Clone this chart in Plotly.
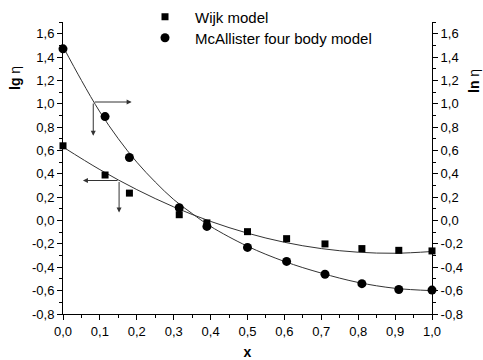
import plotly.graph_objects as go

# ---- data ----
x_pts = [0.0, 0.114, 0.18, 0.315, 0.39, 0.5, 0.606, 0.71, 0.81, 0.91, 1.0]
wijk_y = [0.64, 0.39, 0.235, 0.05, -0.02, -0.095, -0.155, -0.20, -0.24, -0.255, -0.26]
mcal_y = [1.47, 0.89, 0.54, 0.11, -0.05, -0.23, -0.35, -0.46, -0.54, -0.59, -0.595]

fit_x_w = [0.0, 0.1, 0.2, 0.3, 0.4, 0.5, 0.6, 0.7, 0.8, 0.9, 1.0]
fit_y_w = [0.63, 0.436, 0.265, 0.117, -0.007, -0.108, -0.186, -0.240, -0.271, -0.280, -0.265]

fit_x_m = [0.0, 0.05, 0.1, 0.15, 0.2, 0.25, 0.3, 0.35, 0.4, 0.5, 0.6, 0.7, 0.8, 0.9, 1.0]
fit_y_m = [1.49, 1.20, 0.93, 0.70, 0.50, 0.33, 0.18, 0.06, -0.05, -0.22, -0.35, -0.45, -0.53, -0.58, -0.60]

y_ticks = [-0.8, -0.6, -0.4, -0.2, 0.0, 0.2, 0.4, 0.6, 0.8, 1.0, 1.2, 1.4, 1.6]
y_labels = ["-0,8", "-0,6", "-0,4", "-0,2", "0,0", "0,2", "0,4", "0,6", "0,8", "1,0", "1,2", "1,4", "1,6"]
x_ticks = [0.0, 0.1, 0.2, 0.3, 0.4, 0.5, 0.6, 0.7, 0.8, 0.9, 1.0]
x_labels = ["0,0", "0,1", "0,2", "0,3", "0,4", "0,5", "0,6", "0,7", "0,8", "0,9", "1,0"]

FONT = "Liberation Sans, Arial, sans-serif"
ML, MR, MT, MB = 63, 51, 22, 46
W, H = 483, 360
PW, PH = W - ML - MR, H - MT - MB


def px_x(p):
    return (p - ML) / PW


def px_y(p):
    return 1 - (p - MT) / PH


fig = go.Figure()
fig.add_trace(go.Scatter(x=fit_x_w, y=fit_y_w, mode="lines", line=dict(color="#333", width=1, shape="spline"),
                         showlegend=False, hoverinfo="skip", cliponaxis=False))
fig.add_trace(go.Scatter(x=fit_x_m, y=fit_y_m, mode="lines", line=dict(color="#333", width=1, shape="spline"),
                         showlegend=False, hoverinfo="skip", cliponaxis=False))
fig.add_trace(go.Scatter(x=x_pts, y=wijk_y, mode="markers", name="Wijk model", legend="legend",
                         marker=dict(symbol="square", size=7, color="black"), cliponaxis=False))
fig.add_trace(go.Scatter(x=x_pts, y=mcal_y, mode="markers", name="McAllister four body model", legend="legend2",
                         marker=dict(symbol="circle", size=9, color="black"), cliponaxis=False))
# dummy trace to activate right axis
fig.add_trace(go.Scatter(x=[None], y=[None], yaxis="y2", showlegend=False, hoverinfo="skip"))

yr = [-0.8, 1.7]
common_y = dict(range=yr, tickvals=y_ticks, ticktext=y_labels, showline=True, linecolor="black", linewidth=1,
                ticks="outside", ticklen=5, tickcolor="black", showgrid=False, zeroline=False,
                tickfont=dict(family=FONT, size=13, color="black"),
                minor=dict(dtick=0.1, tick0=0, ticks="outside", ticklen=3, tickcolor="black", showgrid=False))

leg_common = dict(xanchor="left", yanchor="middle", bgcolor="rgba(0,0,0,0)", itemwidth=50,
                  font=dict(family=FONT, size=15, color="black"))

fig.update_layout(
    width=W, height=H,
    margin=dict(l=ML, r=MR, t=MT, b=MB, autoexpand=False),
    paper_bgcolor="white", plot_bgcolor="white",
    font=dict(family=FONT, color="black"),
    xaxis=dict(range=[0, 1.0], tickvals=x_ticks, ticktext=x_labels, showline=True, linecolor="black", linewidth=1,
               ticks="outside", ticklen=5, tickcolor="black", showgrid=False, zeroline=False,
               tickfont=dict(family=FONT, size=13, color="black"),
               title=dict(text="<b>x</b>", standoff=10, font=dict(family=FONT, size=14, color="black")),
               minor=dict(dtick=0.05, tick0=0, ticks="outside", ticklen=3, tickcolor="black", showgrid=False)),
    yaxis=dict(**common_y),
    yaxis2=dict(**common_y, overlaying="y", side="right"),
    legend=dict(x=px_x(135), y=px_y(17), **leg_common),
    legend2=dict(x=px_x(135), y=px_y(38), **leg_common),
    showlegend=True,
)

# axis titles placed near the top like the reference
fig.add_annotation(text="<b>lg</b> η", x=px_x(15), y=px_y(78), xref="paper", yref="paper", showarrow=False,
                   xanchor="center", yanchor="middle",
                   textangle=-90, font=dict(family=FONT, size=14, color="black"))
fig.add_annotation(text="<b>ln</b> η", x=px_x(474), y=px_y(81), xref="paper", yref="paper", showarrow=False,
                   xanchor="center", yanchor="middle",
                   textangle=-90, font=dict(family=FONT, size=14, color="black"))

# arrows pointing to the axis that each curve belongs to
arrows = [
    ((0.082, 1.015), (0.186, 1.015)),
    ((0.082, 1.015), (0.082, 0.726)),
    ((0.152, 0.343), (0.054, 0.343)),
    ((0.152, 0.343), (0.152, 0.069)),
]
for (tx, ty), (hx, hy) in arrows:
    fig.add_annotation(x=hx, y=hy, ax=tx, ay=ty, xref="x", yref="y", axref="x", ayref="y", text="",
                       showarrow=True, arrowhead=2, arrowsize=1, arrowwidth=1, arrowcolor="#333")

fig.write_html("out.html")
